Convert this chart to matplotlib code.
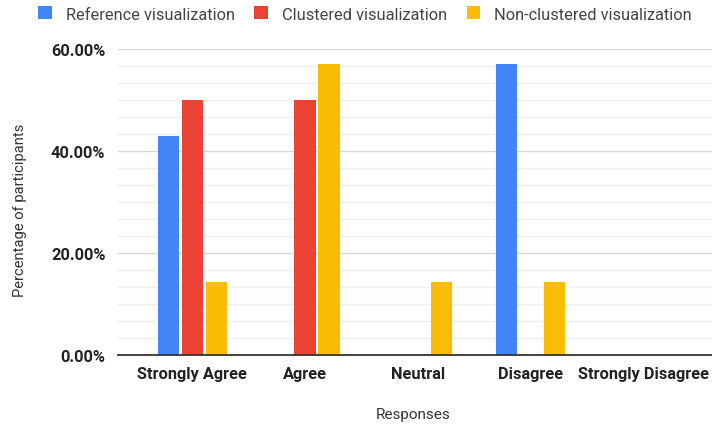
import matplotlib
matplotlib.use("Agg")
import matplotlib.pyplot as plt
from matplotlib.ticker import MultipleLocator, PercentFormatter
import numpy as np

categories = ["Strongly Agree", "Agree", "Neutral", "Disagree", "Strongly Disagree"]
series_names = ["Reference visualization", "Clustered visualization", "Non-clustered visualization"]
reference_vals = [42.86, 0.0, 0.0, 57.14, 0.0]
clustered_vals = [50.0, 50.0, 0.0, 0.0, 0.0]
nonclustered_vals = [14.29, 57.14, 14.29, 14.29, 0.0]
colors = ["#4285F4", "#EA4335", "#FBBC04"]

plt.rcParams["font.family"] = ["Roboto", "DejaVu Sans"]

W, H = 712, 431
fig = plt.figure(figsize=(W / 100, H / 100), dpi=100)
left, right, top, bottom = 118, 712, 50, 356
ax = fig.add_axes([left / W, 1 - bottom / H, (right - left) / W, (bottom - top) / H])

x = np.arange(len(categories))
bw = 0.19
step = 0.212
for i, (vals, name, c) in enumerate(zip([reference_vals, clustered_vals, nonclustered_vals], series_names, colors)):
    ax.bar(x + (i - 1) * step, vals, width=bw, color=c, label=name, zorder=3)

ax.set_xlim(-0.66, 4.61)
ax.set_ylim(0, 60)
ax.yaxis.set_major_locator(MultipleLocator(20))
ax.yaxis.set_minor_locator(MultipleLocator(20 / 6))
ax.yaxis.set_major_formatter(PercentFormatter(decimals=2))
ax.grid(axis="y", which="major", color="#d9d9d9", linewidth=1, zorder=0)
ax.grid(axis="y", which="minor", color="#eeeeee", linewidth=1, zorder=0)
for s in ["top", "right", "left"]:
    ax.spines[s].set_visible(False)
ax.spines["bottom"].set_color("#333333")
ax.spines["bottom"].set_linewidth(1.3)
ax.spines["bottom"].set_zorder(4)
ax.tick_params(axis="both", which="both", length=0)
ax.tick_params(axis="y", pad=9)
ax.tick_params(axis="x", pad=8)
ax.set_xticks(x)
ax.set_xticklabels(categories)
for lab in ax.get_xticklabels() + ax.get_yticklabels():
    lab.set_fontweight("bold")
    lab.set_fontsize(11.8)
    lab.set_color("#222222")

fig.text(20 / W, 1 - 210 / H, "Percentage of participants", rotation=90,
         ha="center", va="center", fontsize=10.6, color="#333333")
fig.text(413 / W, 1 - 415 / H, "Responses", ha="center", va="center",
         fontsize=11, color="#333333")

leg = fig.legend(loc="center", bbox_to_anchor=(365 / W, 1 - 15 / H), ncol=3,
                 frameon=False, fontsize=11.8, handlelength=0.84, handleheight=0.84,
                 handletextpad=0.84, columnspacing=1.2, labelcolor="#444444",
                 borderpad=0, borderaxespad=0)

fig.savefig("out.png", dpi=100)
